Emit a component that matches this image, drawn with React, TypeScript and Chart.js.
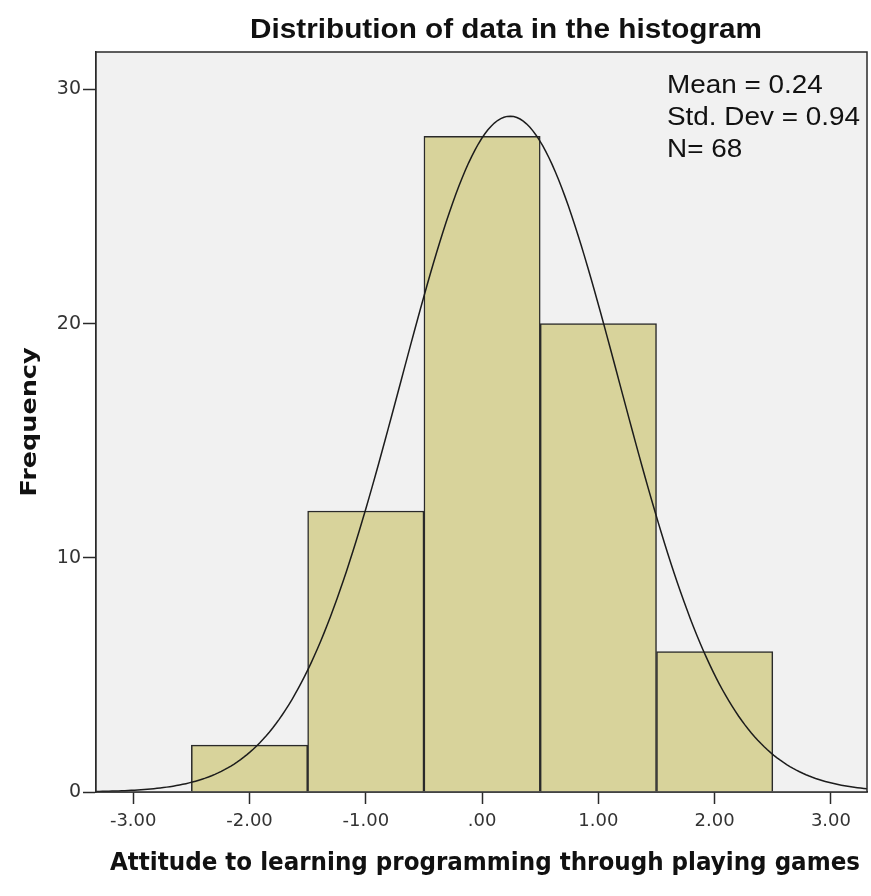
import React, { useEffect, useRef } from "react";
import { Chart, registerables } from "chart.js";

Chart.register(...registerables);

// Histogram bins (lower edges) and their frequencies
const binStarts = [-2.5, -1.5, -0.5, 0.5, 1.5];
const binWidth = 1;
const frequencies = [2, 12, 28, 20, 6];

// Summary statistics shown in the box
const meanValue = 0.24;
const stdDev = 0.94;
const sampleSize = 68;
const statLines = ["Mean = 0.24", "Std. Dev = 0.94", "N= 68"];

// Axis ticks
const xTickValues = [-3, -2, -1, 0, 1, 2, 3];
const yTickValues = [0, 10, 20, 30];
const xMin = -3.32;
const xMax = 3.31;
const yMax = 31.6;

const titleText = "Distribution of data in the histogram";
const xTitle = "Attitude to learning programming through playing games";
const yTitle = "Frequency";

// Fitted normal curve, scaled to counts per bin
function normalCount(x: number): number {
  const z = (x - meanValue) / stdDev;
  return (sampleSize * binWidth * Math.exp(-0.5 * z * z)) / (stdDev * Math.sqrt(2 * Math.PI));
}

const curveSteps = 240;
const curvePoints: { x: number; y: number }[] = [];
for (let i = 0; i <= curveSteps; i++) {
  const x = xMin + ((xMax - xMin) * i) / curveSteps;
  curvePoints.push({ x, y: normalCount(x) });
}

const formatX = (v: number) => (v === 0 ? ".00" : v.toFixed(2));

const SANS = "'Liberation Sans', Arial, sans-serif";
const WIDE = "'DejaVu Sans', Verdana, sans-serif";

// Draws text squeezed or stretched horizontally to a given width
function fitText(ctx: CanvasRenderingContext2D, text: string, x: number, y: number, width: number, align: "left" | "center") {
  const m = ctx.measureText(text).width;
  const s = width / m;
  ctx.save();
  ctx.translate(x, y);
  ctx.scale(s, 1);
  ctx.textAlign = align;
  ctx.fillText(text, 0, 0);
  ctx.restore();
}

const decorPlugin = {
  id: "decor",
  beforeDatasetsDraw(chart: any) {
    const { ctx, chartArea } = chart;
    ctx.save();
    ctx.fillStyle = "#f1f1f1";
    ctx.fillRect(chartArea.left, chartArea.top, chartArea.right - chartArea.left, chartArea.bottom - chartArea.top);
    ctx.restore();
  },
  afterDraw(chart: any) {
    const { ctx, chartArea } = chart;
    ctx.save();
    // frame around plot area
    ctx.strokeStyle = "#2a2a2a";
    ctx.lineWidth = 1.5;
    ctx.strokeRect(chartArea.left, chartArea.top, chartArea.right - chartArea.left, chartArea.bottom - chartArea.top);

    ctx.fillStyle = "#111";
    ctx.textBaseline = "alphabetic";

    // title
    ctx.font = `bold 28px ${SANS}`;
    fitText(ctx, titleText, 506, 38, 512, "center");

    // statistics box
    ctx.font = `25px ${SANS}`;
    const statScale = 193 / ctx.measureText(statLines[1]).width;
    statLines.forEach((s, i) => {
      const w = ctx.measureText(s).width * statScale;
      fitText(ctx, s, 667, 93 + i * 32, w, "left");
    });

    // x axis title
    ctx.font = `bold 24px ${WIDE}`;
    fitText(ctx, xTitle, 485, 870, 750, "center");

    // y axis title
    ctx.translate(36, 422);
    ctx.rotate(-Math.PI / 2);
    ctx.font = `bold 22px ${WIDE}`;
    fitText(ctx, yTitle, 0, 0, 149, "center");
    ctx.restore();
  },
};

export default function App() {
  const canvasRef = useRef<HTMLCanvasElement | null>(null);

  useEffect(() => {
    if (!canvasRef.current) return;
    const chart = new Chart(canvasRef.current, {
      type: "bar",
      data: {
        datasets: [
          {
            type: "line",
            data: curvePoints,
            borderColor: "#1c1c1c",
            borderWidth: 1.5,
            pointRadius: 0,
            fill: false,
            order: 0,
          } as any,
          {
            type: "bar",
            data: binStarts.map((s, i) => ({ x: s + binWidth / 2, y: frequencies[i] })),
            backgroundColor: "#d8d39b",
            borderColor: "#2a2a2a",
            borderWidth: 1.5,
            barPercentage: 1,
            categoryPercentage: 1,
            order: 1,
          } as any,
        ],
      },
      options: {
        animation: false,
        responsive: false,
        layout: { padding: { top: 52, right: 4, left: 0, bottom: 0 } },
        plugins: { legend: { display: false }, tooltip: { enabled: false } },
        scales: {
          x: {
            type: "linear",
            min: xMin,
            max: xMax,
            offset: false,
            afterBuildTicks: (scale: any) => {
              scale.ticks = xTickValues.map((v) => ({ value: v }));
            },
            afterFit: (scale: any) => {
              scale.height = 104;
            },
            grid: {
              offset: false,
              drawOnChartArea: false,
              drawTicks: true,
              tickLength: 12,
              tickColor: "#2a2a2a",
              tickWidth: 1.5,
            },
            border: { display: true, color: "#2a2a2a", width: 1.5 },
            ticks: {
              autoSkip: false,
              maxRotation: 0,
              padding: 7,
              color: "#333",
              font: { family: WIDE, size: 18 },
              callback: (v: any) => formatX(Number(v)),
            },
          },
          y: {
            type: "linear",
            min: 0,
            max: yMax,
            afterBuildTicks: (scale: any) => {
              scale.ticks = yTickValues.map((v) => ({ value: v }));
            },
            afterFit: (scale: any) => {
              scale.width = 96;
            },
            grid: {
              drawOnChartArea: false,
              drawTicks: true,
              tickLength: 13,
              tickColor: "#2a2a2a",
              tickWidth: 1.5,
            },
            border: { display: true, color: "#2a2a2a", width: 1.5 },
            ticks: {
              padding: 2,
              color: "#333",
              font: { family: WIDE, size: 19 },
            },
          },
        },
      },
      plugins: [decorPlugin],
    } as any);
    return () => chart.destroy();
  }, []);

  return (
    <div style={{ position: "fixed", left: 0, top: 0, width: 871, height: 896, background: "#fff" }}>
      <canvas ref={canvasRef} width={871} height={896} style={{ display: "block" }} />
    </div>
  );
}
